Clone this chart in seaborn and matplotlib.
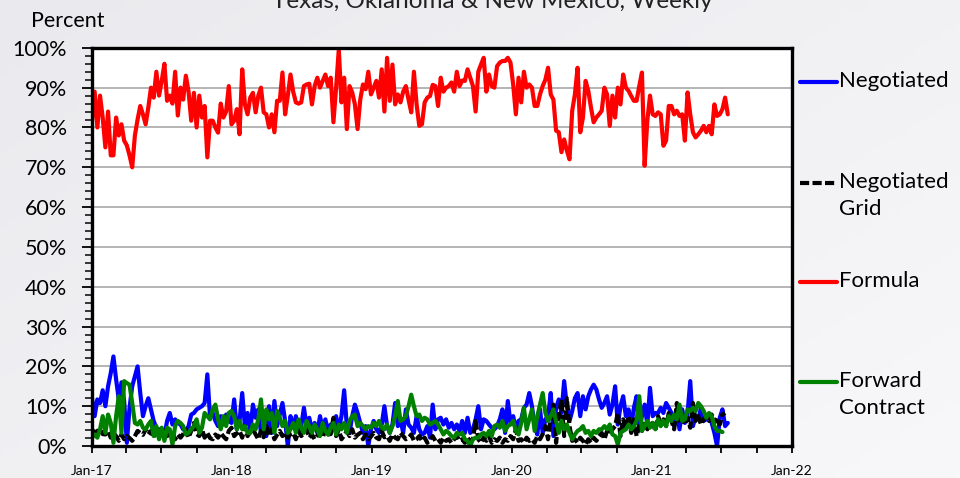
import matplotlib
matplotlib.use('Agg')
import matplotlib.pyplot as plt
import matplotlib.dates as mdates
from matplotlib.lines import Line2D
from matplotlib.ticker import MultipleLocator, FuncFormatter
import seaborn as sns
import numpy as np
import pandas as pd

# weekly shares (percent), Jan 2017 - Jul 2021
formula = [
    81.7, 89, 80, 88, 82.5, 75, 84, 73, 73, 82.5,
    78, 80.8, 76.7, 75.5, 73, 70, 78, 82, 85.4, 83.3,
    80.8, 85, 90, 87.5, 94, 88, 91.7, 96, 86.7, 88,
    86, 94, 83, 90, 87, 93, 89, 81.7, 88.7, 80,
    88, 82.5, 85.4, 72.5, 81.7, 81.7, 80, 78.7, 86, 82.5,
    84, 90.4, 80.8, 81.7, 84.6, 78.3, 94.6, 85.8, 83.3, 87.5,
    88.7, 83.8, 88, 90, 83.8, 83.3, 80, 83.3, 78.8, 86.7,
    86.7, 93.8, 83.3, 88, 93.3, 89, 86.3, 86, 86.3, 90.4,
    90.8, 91, 85.8, 90.4, 92.5, 90, 91.7, 93.3, 90.4, 92.5,
    81.3, 90, 99.6, 86.3, 92.5, 79.6, 90.4, 88.8, 85.8, 79.6,
    87, 90.8, 89.6, 94, 88.3, 90, 91.7, 87.5, 94.6, 84,
    97.5, 86.7, 95.8, 85.8, 88.3, 86.3, 89, 90.4, 87, 83.8,
    94, 85.8, 80.4, 80.8, 86.3, 87.5, 87.9, 90.7, 90.4, 85.4,
    92.5, 89, 90, 90.4, 91.3, 89, 94, 90.4, 91.8, 91.7,
    94.6, 92.5, 90.4, 84, 94, 95.8, 97.5, 89, 93.3, 90.4,
    90, 95.4, 96.3, 96.7, 96.7, 97.5, 96.3,
    90.8, 83.3, 92.5, 86.3, 94, 90, 90.8, 90, 85.4, 85.4,
    88.3, 90.4, 92, 95, 88.3, 87, 79.2, 78.8, 73.8, 77,
    74.2, 72, 84.2, 88.3, 95, 78.8, 82.5, 91.7, 89.2, 85,
    81.3, 82.5, 83.3, 84.2, 90, 88.3, 80.4, 88, 82.5, 90,
    85.8, 93.3, 90, 89.2, 87.9, 86.7, 86.7, 90.4, 93.8, 70.4,
    81.7, 88, 83.3, 82.9, 83.8, 83.3, 75.4, 76.7, 85.4, 85.4,
    83.3, 84.2, 82.9, 83.3, 76.7, 88.8, 83.3, 78.8, 77.5, 78.3,
    79.2, 80.4, 78.8, 80.4, 78.3, 85.8, 82.9, 83.3, 84.6, 87.5,
    83.3,
]

negotiated = [
    12, 7.5, 11.7, 10.8, 14, 10, 15, 18.3, 22.5, 16.7,
    11.7, 16, 11.3, 0.8, 9.6, 15, 17.5, 20, 13.3, 7.5,
    10, 12, 9.2, 6.3, 4.6, 2.9, 3.3, 2.5, 6.3, 8.3,
    5.4, 6.7, 5.8, 5.4, 4.2, 3.8, 5, 7.9, 8.3, 9.2,
    9.6, 10, 10.8, 18, 7.5, 8.3, 6.3, 5, 7.5, 5.4,
    7.9, 6.3, 5.8, 11.7, 4.2, 6.3, 13.3, 5, 8.3, 3.8,
    10.4, 7.1, 9.2, 3.3, 8.3, 2.5, 10, 3.3, 11.3, 5,
    7.9, 10.8, 6.3, 0, 7.5, 4.6, 7.5, 4.2, 5, 9.6,
    5, 7.1, 3.8, 5.8, 3.3, 7.5, 4.2, 6.7, 3.8, 5.4,
    4.2, 7.5, 4.2, 7.5, 14, 5, 3.3, 7.5, 10.4, 8.3,
    5.8, 3.3, 5, 0, 4.2, 6.3, 4.2, 3.3, 5.4, 10,
    5, 3.3, 5.4, 10.8, 5, 6.7, 3.3, 9.2, 5.4,
    4.6, 3.3, 7.5, 4.2, 2.9, 3.3, 5, 2.1, 10.4, 4.2,
    6.7, 7.1, 5.4, 6.7, 4.6, 5.8, 4.2, 5.4, 3.8, 6.3,
    3.3, 7.1, 3.3, 4.2, 6.7, 10, 4.2, 6.7, 6.3, 5.4,
    4.6, 4.2, 5, 6.7, 9.2, 3.3, 11.3, 5.8, 7.5, 4.2,
    6.3, 6.7, 9.6, 10.4, 13.3, 10, 5, 2.9, 9.2, 3.3,
    6.7, 7.5, 13.3, 2.5, 9.6, 11.7, 8.3, 16.3, 10, 6.3,
    8.8, 12, 13.3, 7.5, 12.5, 9.2, 12.5, 14.2, 15.4, 14.2,
    11.7, 9.6, 10.8, 12.5, 7.9, 10.4, 15, 5.4, 10, 12.5,
    7.5, 9.2, 5, 9.6, 12.5, 4.2, 7.5, 10.4, 5.4, 14.6,
    7.5, 8.3, 8.3, 9.6, 8.3, 10.8, 9.6, 8.3, 5, 8.3,
    4.2, 9.2, 5.8, 8.3, 16.3, 5, 7.5, 6.7, 9.6, 6.3,
    6.7, 7.5, 5.8, 3.3, 0, 7.1, 9.2, 5, 5.8,
]

negotiated_grid = [
    4.2, 3.3, 3.8, 4.2, 3.0, 2.9, 3.8, 2.1, 3.3, 2.5,
    1.3, 2.9, 1.7, 2.5, 2.0, 1.3, 2.5, 3.8, 3.3, 2.8,
    4.2, 2.9, 3.8, 2.1, 3.5, 4.2, 2.9, 4.6, 2.5, 3.0,
    3.3, 1.7, 2.9, 2.1, 3.0, 4.2, 2.1, 3.8, 5.8, 3.0,
    2.5, 4.2, 2.1, 3.3, 2.0, 1.7, 2.9, 2.1, 3.3, 2.4,
    1.7, 3.8, 4.6, 2.5, 3.2, 3.8, 2.1, 5, 2.5, 3.5,
    4.2, 2.9, 1.7, 3.8, 2.2, 5, 2.5, 4.2, 1.7, 2.8,
    3.8, 2.5, 3.3, 2.1, 3.0, 3.3, 1.7, 3.8, 2.5, 3.2,
    4.2, 2.1, 2.9, 1.7, 2.6, 3.3, 2.1, 4.2, 2.9, 3.0,
    7.1, 2.5, 4.2, 1.7, 2.6, 3.8, 2.5, 4.2, 2.1, 2.8,
    3.3, 1.7, 2.9, 1.7, 2.4, 3.3, 2.1, 1.7, 3.8, 2.2,
    2.5, 1.3, 2.9, 2.1, 1.7, 3.3, 2.5, 1.7,
    2.1, 2.9, 1.3, 1.7, 2.5, 1.3, 2.1, 0.8, 1.7, 2.5,
    1.3, 1.7, 0.8, 2.1, 1.3, 1.7, 0.8, 1.7, 2.5, 1.3,
    1.7, 0.8, 2.1, 1.3, 1.7, 6.3,
    1.7, 0.8, 2.1, 1.3, 2.5, 0.8, 1.7, 1.3, 2.1, 0.8,
    1.7, 1.3, 2.5, 1.7, 4.2, 1.3, 1.7, 0.8, 2.1, 1.3,
    1.7, 0.8, 2.5, 1.7, 3.0, 5.0,
    1.7, 7.5, 10.4, 0.8, 7.5, 11.7, 2.5, 12.0, 5.0,
    1.3, 1.7, 0.8, 2.1, 1.3, 0.4, 1.7, 0.8, 2.1, 1.3,
    2.5, 3.3, 1.7, 3.8, 2.9, 4.2, 5.0,
    8.3, 2.5, 6.7, 4.2, 7.5, 3.3, 6.7, 2.5, 5.0, 3.8,
    6.3, 4.2, 5.4, 5.8, 3.8, 7.5, 5.8, 6.7, 5.0, 8.3,
    6.3, 4.2, 10.8, 5.8, 7.1, 5.4, 7.1, 4.6, 10.8, 6.3,
    7.5, 5.4, 6.7, 7.5, 6.3, 7.9, 5.8, 7.1, 5.4, 7.9,
    8.3,
]

forward_contract = [
    2.1, 2.9, 2.1, 4.2, 7.5, 3.3, 7.9, 5.8, 0.8, 7.5,
    12.5, 3.3, 16.3, 15.8, 15.4, 10.8, 5.8, 5.4, 6.3, 4.6,
    4.2, 5.4, 6.3, 2.5, 5, 1.7, 4.6, 1.3, 4.6, 4.2,
    0.4, 5, 6.3, 5.8, 5, 2.9, 3.3, 4.2, 5, 6.7,
    3.3, 4.6, 8.3, 7.5, 6.7, 9.2, 10.4, 6.7, 4.2, 7.5,
    5, 8.3, 8.8, 7.5, 4.2, 6.3, 4.2, 5, 3.3, 3.3,
    5.4, 4.2, 6.7, 11.7, 4.2, 9.2, 6.7, 8.3, 3.3, 8.8,
    7.1, 5, 6.3, 3.3, 4.2, 5.8, 3.3, 6.7, 4.6, 3.3,
    6.3, 5, 3.3, 5.4, 4.2, 2.5, 5.8, 3.8, 2.9, 4.6,
    5.8, 2.9, 5.4, 4.2, 5.8, 3.3, 6.3, 7.5, 7.9, 5,
    5.8, 5, 4.2, 5, 4.6, 5.8, 5, 6.3, 4.6, 4.2,
    5.4, 3.3, 5, 7.5, 11.3, 6.3, 6.7,
    7.5, 10, 12.9, 10, 7.5, 7.9, 6.3, 7.1, 6.7, 5.4,
    5.8, 6.3, 5.4, 4.2, 2.9, 3.8, 3.3, 2.5, 2.1, 3.3,
    2.9, 3.3, 1.7, 1.3, 0, 1.7, 2.1, 2.1, 2.9, 3.3,
    2.5, 3.8, 2.5, 5, 5.4, 4.6, 6.3, 3.8, 5, 5.4,
    6.3, 3.8, 2.9, 5.8, 9.6, 4.2, 6.7, 9.2, 3.8, 7.5,
    10.4, 13.3, 8.3, 6.3, 7.5, 9.2, 6.3, 3.3, 6.3, 4.2,
    5.4, 3.3, 1.7, 2.9, 3.8, 4.2, 5, 3.3, 3.8, 2.5,
    3.8, 3.3, 4.2, 4.2, 5, 4.2, 5.4, 2.9, 2.5, 0.4,
    3.3, 3.8, 4.2, 5.4, 4.2, 5, 6.3, 12.5, 3.8, 5,
    6.3, 4.6, 5.8, 4.2, 6.7, 5, 6.3, 5, 7.5, 6.3,
    7.9, 6.7, 10.4, 6.3, 6.7, 9.2, 8.8, 9.6, 8.8, 10.8,
    10, 8.8, 7.1, 8.3, 7.5, 5, 3.8, 3.8, 3.5,
]

weeks = pd.date_range('2017-01-01', periods=240, freq='7D')
year_ticks = pd.date_range('2017-01-01', '2022-01-01', freq='YS')

sns.set_style('white')
plt.rcParams['font.family'] = ['Lato', 'DejaVu Sans']

fig = plt.figure(figsize=(9.6, 4.78), dpi=100)

# soft grey background like the slide
bg = fig.add_axes([0, 0, 1, 1], zorder=-5)
gx, gy = np.meshgrid(np.linspace(0, 1, 200), np.linspace(0, 1, 100))
g = 0.55 * gx + 0.45 * gy
c0 = np.array([234, 233, 237]) / 255
c1 = np.array([248, 247, 249]) / 255
bg.imshow(c0 + g[..., None] * (c1 - c0), aspect='auto', extent=[0, 1, 0, 1])
bg.axis('off')

ax = fig.add_axes([0.0958, 0.0669, 0.729, 0.833])
ax.set_facecolor('white')

series = [
    (negotiated, '#0000FF', '-'),
    (negotiated_grid, 'black', (0, (2.2, 0.8))),
    (forward_contract, '#008000', '-'),
    (formula, '#FF0000', '-'),
]
for vals, col, ls in series:
    sns.lineplot(x=weeks[:len(vals)], y=vals, ax=ax, color=col,
                 linewidth=3.0, linestyle=ls, legend=False)

ax.set_xlim(year_ticks[0], year_ticks[-1])
ax.set_ylim(0, 100)
ax.set_xlabel('')
ax.set_ylabel('')

ax.yaxis.set_major_locator(MultipleLocator(10))
ax.yaxis.set_minor_locator(MultipleLocator(2))
ax.yaxis.set_major_formatter(FuncFormatter(lambda v, p: f'{v:.0f}%'))
ax.xaxis.set_major_locator(mdates.YearLocator())
ax.xaxis.set_minor_locator(mdates.MonthLocator(bymonth=[4, 7, 10]))
ax.xaxis.set_major_formatter(mdates.DateFormatter('%b-%y'))

ax.yaxis.grid(True, which='major', color='#a0a0a0', linewidth=1.1)
ax.xaxis.grid(False)
ax.set_axisbelow(True)
for s in ax.spines.values():
    s.set_color('black')
    s.set_linewidth(2.4)

ax.tick_params(axis='y', which='major', left=True, direction='out', length=7,
               width=1.3, pad=11, labelsize=15.5, colors='black')
ax.tick_params(axis='y', which='minor', left=True, direction='out', length=5,
               width=1.3)
ax.tick_params(axis='x', which='both', bottom=True, direction='out', length=5,
               width=1.3, pad=9, labelsize=10, colors='black')

fig.text(0.5125, 1 - 8 / 478, 'Texas, Oklahoma & New Mexico, Weekly',
         ha='center', va='baseline', fontsize=17.5, color='#222222')
fig.text(31 / 960, 1 - 27 / 478, 'Percent', ha='left', va='baseline',
         fontsize=15.5, color='black')

# legend drawn beside the plot area
legend_rows = [
    ('Negotiated', '#0000FF', '-', 82),
    ('Negotiated\nGrid', 'black', (0, (2.2, 0.8)), 183),
    ('Formula', '#FF0000', '-', 282),
    ('Forward\nContract', '#008000', '-', 382),
]
for label, col, ls, ypix in legend_rows:
    yf = 1 - ypix / 478
    fig.add_artist(Line2D([800 / 960, 837 / 960], [yf, yf], color=col,
                          linewidth=3, linestyle=ls, transform=fig.transFigure))
    fig.text(839 / 960, 1 - (ypix - 11) / 478, label, ha='left', va='top',
             fontsize=16, linespacing=1.45, color='black')

fig.savefig('out.png', dpi=100, facecolor=fig.get_facecolor())
plt.close(fig)
